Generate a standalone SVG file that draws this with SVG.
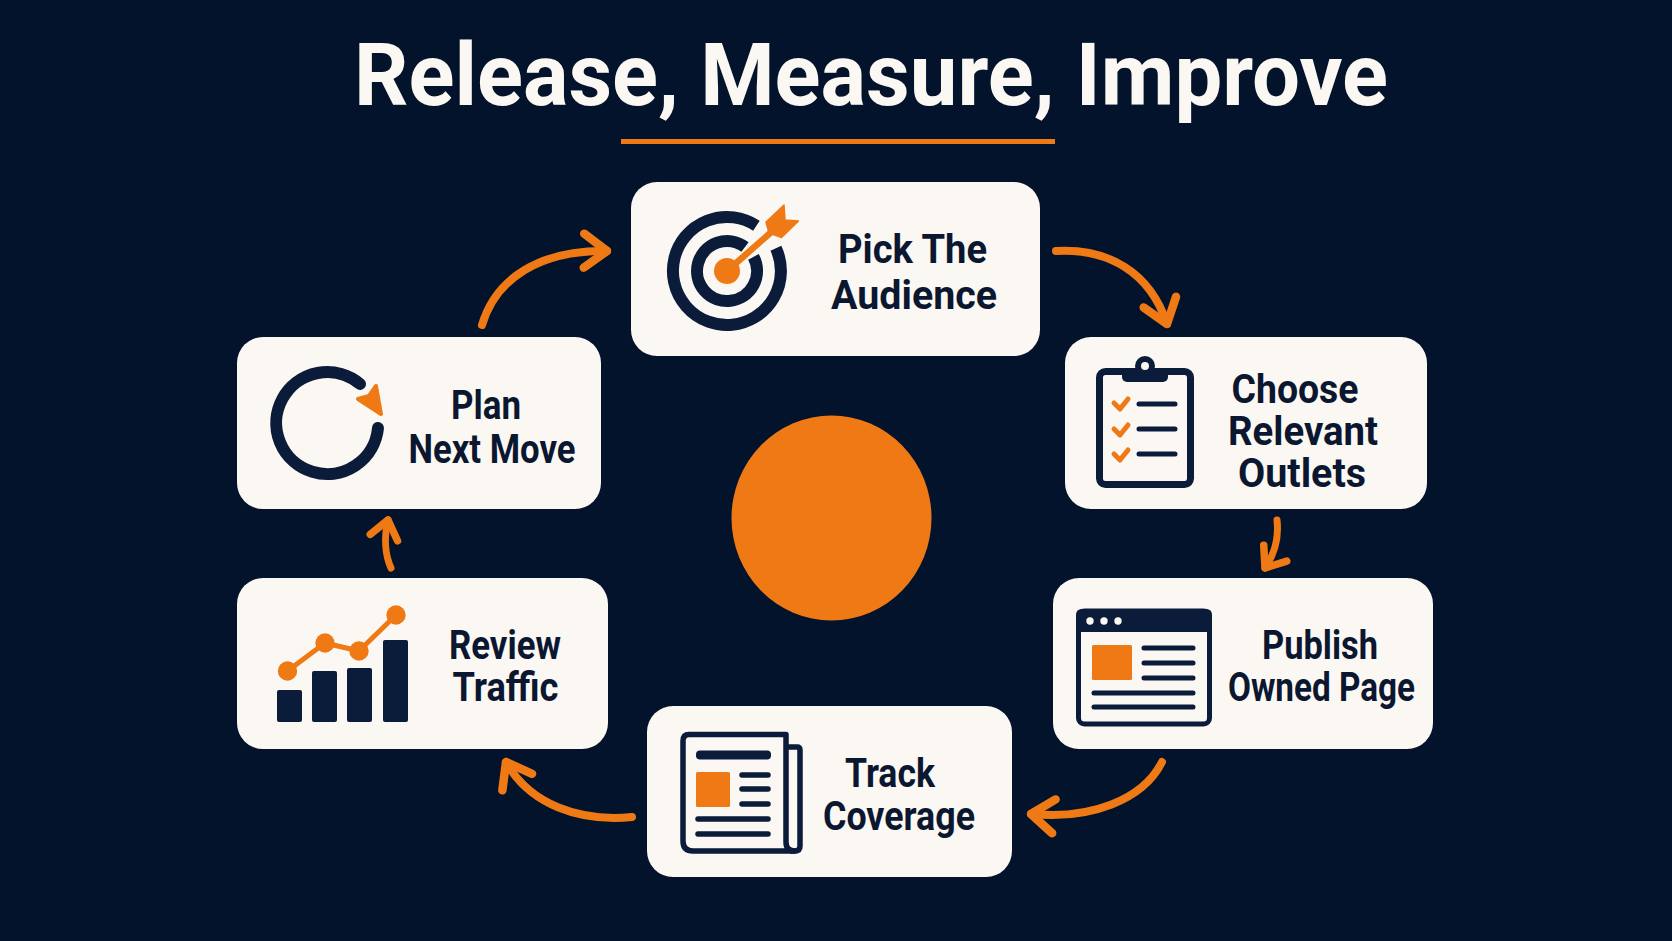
<svg xmlns="http://www.w3.org/2000/svg" width="1672" height="941" viewBox="0 0 1672 941">
<style>
.bg{fill:#03132b}
.card{fill:#fbf7f2}
.t{font-family:"Roboto","Noto Sans",sans-serif;font-weight:700;font-size:40px;fill:#0b1730}
.title{font-family:"Roboto","Noto Sans",sans-serif;font-weight:700;font-size:87px;fill:#fbf7f2}
.o{fill:#ef7a15}
.n{fill:#0b1b3a}
.ns{fill:none;stroke:#0b1b3a;stroke-linecap:round;stroke-linejoin:round}
.os{fill:none;stroke:#ef7a15;stroke-linecap:round;stroke-linejoin:round}
.conn{fill:none;stroke:#ef7a15;stroke-width:8;stroke-linecap:round;marker-end:url(#chev)}
.conn.short{stroke-width:7;marker-end:url(#chev-s)}
</style>
<defs>
<marker id="chev" markerUnits="userSpaceOnUse" markerWidth="60" markerHeight="60" refX="40" refY="30" orient="auto" overflow="visible">
<path d="M17 13 L40 30 L17 47" fill="none" stroke="#ef7a15" stroke-width="8.5" stroke-linecap="round" stroke-linejoin="round"/>
</marker>
<marker id="chev-s" markerUnits="userSpaceOnUse" markerWidth="60" markerHeight="60" refX="40" refY="30" orient="auto" overflow="visible">
<path d="M22 16 L40 30 L22 44" fill="none" stroke="#ef7a15" stroke-width="7.5" stroke-linecap="round" stroke-linejoin="round"/>
</marker>
</defs>
<rect class="bg" width="1672" height="941"/>
<g id="title">
<text class="title" x="354" y="105" textLength="1034" lengthAdjust="spacingAndGlyphs">Release, Measure, Improve</text>
<rect class="o" x="621" y="139" width="434" height="5"/>
</g>
<ellipse id="center-circle" class="o" cx="831.5" cy="518" rx="100" ry="102.5"/>
<g id="connectors">
<path class="conn" d="M482 325 C496 278 540 250 607 251"/>
<path class="conn" d="M1056 251 C1108 248 1150 272 1167 324"/>
<path class="conn short" d="M1277 520 C1279 538 1274 555 1265 568"/>
<path class="conn" d="M1162 762 C1143 800 1090 820 1031 814"/>
<path class="conn" d="M632 817 C580 822 530 805 506 762"/>
<path class="conn short" d="M391 568 C385 555 384 537 388 520"/>
</g>
<g id="node-pick-audience">
<rect class="card" x="631" y="182" width="409" height="174" rx="26"/>
<path class="ns" stroke-width="12" style="stroke-linecap:butt" d="M775.9 248.2 A54 54 0 1 1 756.4 225.7"/>
<path class="ns" stroke-width="12" style="stroke-linecap:butt" d="M753.5 256.9 A30 30 0 1 1 745 247"/>
<circle class="o" cx="727" cy="271" r="13"/>
<path class="os" stroke-width="6.5" d="M727 271 L776 228"/>
<path class="o" stroke="#ef7a15" stroke-width="1.5" stroke-linejoin="round" d="M766 222 L784 205 L785 220 L798.5 221 L781.5 237.5 L769 233 Z"/>
<text class="t"><tspan x="838" y="263" textLength="149" lengthAdjust="spacingAndGlyphs">Pick The</tspan><tspan x="831" y="309" textLength="166" lengthAdjust="spacingAndGlyphs">Audience</tspan></text>
</g>
<g id="node-choose-outlets">
<rect class="card" x="1065" y="337" width="362" height="172" rx="26"/>
<rect x="1099.5" y="371.5" width="91" height="113" rx="6" fill="none" stroke="#0b1b3a" stroke-width="7"/>
<rect class="n" x="1122" y="368" width="46" height="14" rx="5"/>
<circle class="n" cx="1145" cy="366" r="10"/>
<circle class="card" cx="1145" cy="366" r="4"/>
<path class="os" stroke-width="5" d="M1114 403 L1120 409 L1128 399 M1114 429 L1120 435 L1128 425 M1114 454 L1120 460 L1128 450"/>
<path class="ns" stroke-width="5" d="M1139 404 H1175 M1139 429 H1175 M1139 454 H1175"/>
<text class="t"><tspan x="1231.5" y="403" textLength="127" lengthAdjust="spacingAndGlyphs">Choose</tspan><tspan x="1228" y="445" textLength="150" lengthAdjust="spacingAndGlyphs">Relevant</tspan><tspan x="1238" y="487" textLength="128" lengthAdjust="spacingAndGlyphs">Outlets</tspan></text>
</g>
<g id="node-publish-page">
<rect class="card" x="1053" y="578" width="380" height="171" rx="26"/>
<rect x="1078.5" y="611" width="131" height="113" rx="6" fill="none" stroke="#0b1b3a" stroke-width="5"/>
<path class="n" d="M1076 632 V615 Q1076 609 1082 609 H1206 Q1212 609 1212 615 V632 Z"/>
<circle class="card" cx="1090" cy="621" r="3.7"/>
<circle class="card" cx="1104" cy="621" r="3.7"/>
<circle class="card" cx="1118" cy="621" r="3.7"/>
<rect class="o" x="1092" y="645" width="40" height="35" rx="1.5"/>
<path class="ns" stroke-width="5" d="M1144 648 H1193 M1144 663 H1193 M1144 678 H1193 M1094 693 H1193 M1094 707 H1193"/>
<text class="t"><tspan x="1262" y="659" textLength="116" lengthAdjust="spacingAndGlyphs">Publish</tspan><tspan x="1228" y="701" textLength="187" lengthAdjust="spacingAndGlyphs">Owned Page</tspan></text>
</g>
<g id="node-track-coverage">
<rect class="card" x="647" y="706" width="365" height="171" rx="26"/>
<path d="M787 747 H797 Q800 747 800 750 V846 Q800 851 795 851 H790" fill="none" stroke="#0b1b3a" stroke-width="5.5" stroke-linejoin="round"/>
<path d="M795 851 Q786 851 786 842 V734.5 H689 Q683 734.5 683 741 V841 Q683 851 693 851 Z" fill="none" stroke="#0b1b3a" stroke-width="5.5" stroke-linejoin="round"/>
<rect class="n" x="696" y="750.5" width="75" height="9" rx="4"/>
<rect class="o" x="696" y="772" width="34" height="35" rx="1.5"/>
<path class="ns" stroke-width="5.5" d="M742 775 H768 M742 789 H768 M742 804 H768 M698 819 H768 M698 834 H768"/>
<text class="t"><tspan x="845" y="787" textLength="90" lengthAdjust="spacingAndGlyphs">Track</tspan><tspan x="823" y="830" textLength="152" lengthAdjust="spacingAndGlyphs">Coverage</tspan></text>
</g>
<g id="node-review-traffic">
<rect class="card" x="237" y="578" width="371" height="171" rx="26"/>
<rect class="n" x="277" y="690" width="25" height="32" rx="2"/>
<rect class="n" x="312" y="671" width="25" height="51" rx="2"/>
<rect class="n" x="347" y="668" width="25" height="54" rx="2"/>
<rect class="n" x="383" y="640" width="25" height="82" rx="2"/>
<path class="os" stroke-width="5" d="M287.5 671 L325 643 L359 651 L396 615"/>
<circle class="o" cx="287.5" cy="671" r="9.7"/>
<circle class="o" cx="325" cy="643" r="9.7"/>
<circle class="o" cx="359" cy="651" r="9.7"/>
<circle class="o" cx="396" cy="615" r="9.7"/>
<text class="t"><tspan x="449" y="659" textLength="112" lengthAdjust="spacingAndGlyphs">Review</tspan><tspan x="452.5" y="701" textLength="106" lengthAdjust="spacingAndGlyphs">Traffic</tspan></text>
</g>
<g id="node-plan-move">
<rect class="card" x="237" y="337" width="364" height="172" rx="26"/>
<path class="ns" stroke-width="12" d="M378 428 A51 51 0 1 1 360 384"/>
<path class="o" stroke="#ef7a15" stroke-width="4" stroke-linejoin="round" d="M376 386 L381 414 L358 399 L369 396 Z"/>
<text class="t"><tspan x="451" y="419" textLength="70" lengthAdjust="spacingAndGlyphs">Plan</tspan><tspan x="408.5" y="463" textLength="167" lengthAdjust="spacingAndGlyphs">Next Move</tspan></text>
</g>
</svg>
